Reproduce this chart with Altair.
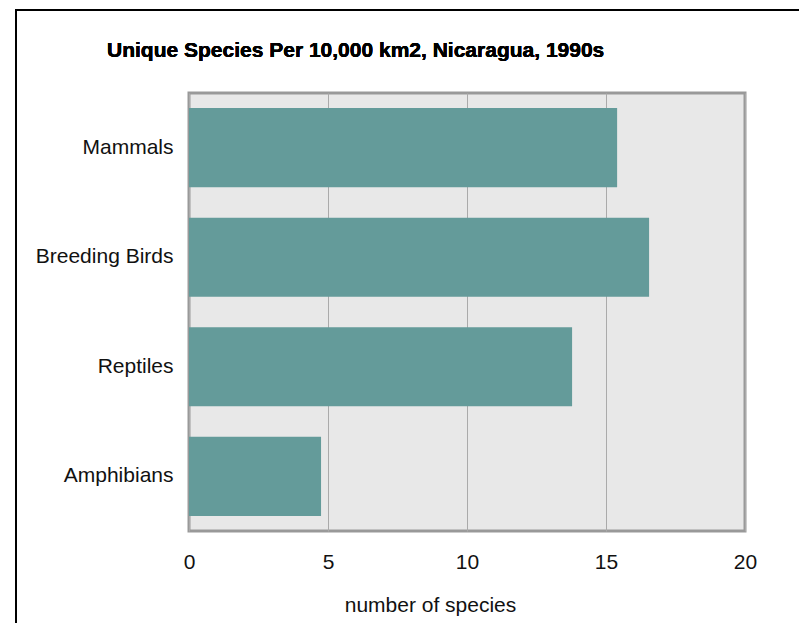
import altair as alt
import pandas as pd

categories = ["Mammals", "Breeding Birds", "Reptiles", "Amphibians"]
values = [15.4, 16.55, 13.78, 4.75]
x_ticks = [0, 5, 10, 15, 20]

df = pd.DataFrame({"group": categories, "species": values})

W, H = 556, 438
PAD_L, PAD_T = 181, 85
FS = 21

bars = alt.Chart(df).mark_bar(color="#649b9a").encode(
    x=alt.X("species:Q",
            scale=alt.Scale(domain=[0, 20], nice=False),
            axis=alt.Axis(values=x_ticks, title="number of species", grid=True,
                          gridColor="#aaaaaa", gridWidth=1, domain=False, ticks=False,
                          labelFlush=False, labelOverlap=False,
                          labelFontSize=FS, labelPadding=20, labelColor="#111111",
                          titleFontSize=FS, titleFontWeight="normal", titlePadding=22,
                          titleColor="#111111", titleX=241, labelFont="Liberation Sans",
                          titleFont="Liberation Sans")),
    y=alt.Y("group:N", sort=categories,
            scale=alt.Scale(paddingInner=0.278, paddingOuter=0.137),
            axis=alt.Axis(title=None, domain=False, ticks=False, labelFontSize=FS,
                          labelPadding=16, labelColor="#111111", labelFont="Liberation Sans")),
)

frame = alt.Chart(df).mark_rect(fill=None, stroke="#000000", strokeWidth=2, clip=False).encode(
    x=alt.value(16 - 189),
    x2=alt.value(807 - 189 + 20),
    y=alt.value(10 - 93),
    y2=alt.value(631 - 93 + 20),
)

title_txt = alt.Chart(df).mark_text(
    text="Unique Species Per 10,000 km2, Nicaragua, 1990s",
    font="Liberation Sans", fontSize=FS, fontWeight="bold", align="left",
    baseline="middle", color="#000000", clip=False,
).encode(x=alt.value(107 - 189), y=alt.value(51 - 93))

chart = alt.layer(frame, bars, title_txt).properties(
    width=W, height=H,
    autosize=alt.AutoSizeParams(type="none"),
    padding={"left": PAD_L, "top": PAD_T, "right": 807 - 8 - 745, "bottom": 631 - 8 - 531},
    background="white",
).configure_view(
    fill="#e8e8e8", stroke="#999999", strokeWidth=3
)

chart.save("out.html", embed_options={"renderer": "svg", "actions": False})
